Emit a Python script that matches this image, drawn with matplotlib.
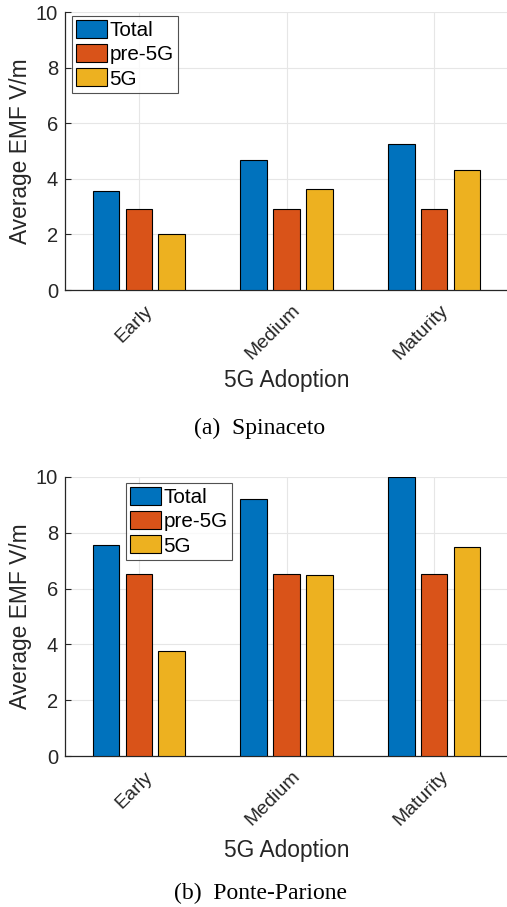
import matplotlib.pyplot as plt
import matplotlib.transforms as mtransforms
import numpy as np

plt.rcParams['font.family'] = ['Liberation Sans', 'DejaVu Sans']

# 데이터
stages = ['Early', 'Medium', 'Maturity']
series = ['Total', 'pre-5G', '5G']
spinaceto_total = [3.57, 4.68, 5.24]
spinaceto_pre5g = [2.93, 2.93, 2.93]
spinaceto_5g = [2.01, 3.62, 4.32]
ponte_total = [7.55, 9.22, 9.99]
ponte_pre5g = [6.54, 6.54, 6.54]
ponte_5g = [3.75, 6.49, 7.49]

colors = ['#0072BD', '#D95319', '#EDB120']
W, H = 507, 907

fig = plt.figure(figsize=(W / 100, H / 100), dpi=100)


def draw_panel(top_px, bottom_px, values, caption, legend_xy, caption_y, xlabel_gap):
    h = bottom_px - top_px
    ax = fig.add_axes([65 / W, 1 - bottom_px / H, 443 / W, h / H])
    x = np.arange(1, len(stages) + 1)
    offsets = [-0.222, 0.0, 0.222]
    for vals, off, col, name in zip(values, offsets, colors, series):
        ax.bar(x + off, vals, width=0.18, color=col, edgecolor='black',
               linewidth=0.8, label=name, zorder=3)
    ax.set_xlim(0.5, 3.5)
    ax.set_ylim(0, 10)
    ax.set_xticks(x)
    ax.set_xticklabels(stages, rotation=45, ha='right', va='center',
                       rotation_mode='anchor', fontsize=14, color='#262626')
    ax.set_yticks(np.arange(0, 11, 2))
    ax.tick_params(axis='y', labelsize=14.5, colors='#262626', direction='in',
                   length=4, pad=5)
    ax.tick_params(axis='x', direction='in', length=0, pad=13)
    # MATLAB식으로 회전된 눈금 라벨을 오른쪽으로 조금 이동
    shift = mtransforms.ScaledTranslation(11 / 100, 0, fig.dpi_scale_trans)
    for lab in ax.get_xticklabels():
        lab.set_transform(lab.get_transform() + shift)
    ax.grid(True, color='#e6e6e6', linewidth=0.8, zorder=0)
    ax.set_axisbelow(True)
    for s in ['top', 'right']:
        ax.spines[s].set_visible(False)
    for s in ['left', 'bottom']:
        ax.spines[s].set_color('#262626')
        ax.spines[s].set_linewidth(0.9)
    ax.set_ylabel('Average EMF V/m', fontsize=16.4, color='#262626', labelpad=3)
    ax.set_xlabel('5G Adoption', fontsize=16.4, color='#262626', va='center')
    ax.xaxis.set_label_coords(0.5, -xlabel_gap / h)
    leg = ax.legend(loc='upper left', bbox_to_anchor=legend_xy, fontsize=14.9,
                    frameon=True, fancybox=False, handlelength=1.5, handleheight=0.95,
                    handletextpad=0.1, borderpad=0.2, labelspacing=0.2,
                    borderaxespad=0)
    leg.get_frame().set_edgecolor('#262626')
    leg.get_frame().set_linewidth(0.8)
    fig.text(260 / W, 1 - caption_y / H, caption, ha='center', va='center',
             fontsize=17, family='Liberation Serif')
    return ax


draw_panel(12, 290, [spinaceto_total, spinaceto_pre5g, spinaceto_5g],
           '(a)  Spinaceto', (7 / 443, 1 - 4 / 278), 428, 90)
draw_panel(477, 756, [ponte_total, ponte_pre5g, ponte_5g],
           '(b)  Ponte-Parione', (61 / 443, 1 - 6 / 279), 893, 94)

fig.savefig('out.png', dpi=100)
